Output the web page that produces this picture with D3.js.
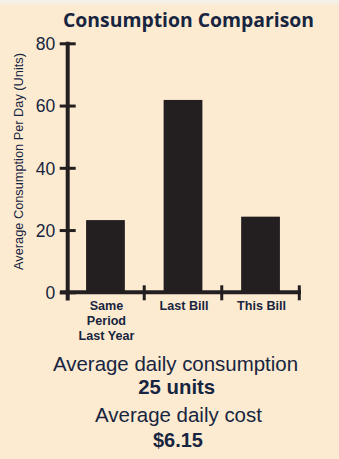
<!DOCTYPE html>
<html><head><meta charset="utf-8">
<script src="https://cdn.jsdelivr.net/npm/d3@7"></script>
<style>
html,body{margin:0;padding:0;background:#fdebd1;}
svg{display:block;}
</style></head>
<body>
<script>
const categories = ["Same Period Last Year", "Last Bill", "This Bill"];
const categoryLines = [["Same","Period","Last Year"],["Last Bill"],["This Bill"]];
const values = [23.2, 61.8, 24.3];
const yTicks = [0, 20, 40, 60, 80];
const title = "Consumption Comparison";
const yLabel = "Average Consumption Per Day (Units)";
const summary = [
  {text:"Average daily consumption", bold:false},
  {text:"25 units", bold:true},
  {text:"Average daily cost", bold:false},
  {text:"$6.15", bold:true}
];

const W = 339, H = 459;
const navy = "#172540", ink = "#231f20";
const svg = d3.select("body").append("svg").attr("width", W).attr("height", H);

const defs = svg.append("defs");
const g0 = defs.append("linearGradient").attr("id","topfade").attr("x1",0).attr("y1",0).attr("x2",0).attr("y2",1);
g0.append("stop").attr("offset","0%").attr("stop-color","#f4f1ec");
g0.append("stop").attr("offset","100%").attr("stop-color","#fdebd1");
svg.append("rect").attr("width",W).attr("height",H).attr("fill","#fdebd1");
svg.append("rect").attr("width",W).attr("height",7).attr("fill","url(#topfade)");

// scale font so text reaches a target width
function fitWidth(sel, target) {
  const fs = parseFloat(sel.attr("font-size"));
  const w = sel.node().getComputedTextLength();
  if (w > 0) sel.attr("font-size", (fs * target / w).toFixed(2));
}

const y = d3.scaleLinear().domain([0, 80]).range([292.3, 43.3]);
const x = d3.scaleBand().domain(categories).range([66.7, 299.3]).paddingInner(0.5).paddingOuter(0.25);

// title
const tt = svg.append("text").attr("x", 188.5).attr("y", 26.5).attr("text-anchor","middle")
  .attr("font-family","'Open Sans', Lato, sans-serif").attr("font-weight","bold")
  .attr("font-size", 19).attr("fill", navy).text(title);
fitWidth(tt, 251);

// y label
const yl = svg.append("text").attr("transform","translate(23,161.5) rotate(-90)").attr("text-anchor","middle")
  .attr("font-family","'Liberation Sans', Arial, sans-serif").attr("font-size", 12)
  .attr("fill", navy).text(yLabel);
fitWidth(yl, 217);

// bars
svg.append("g").selectAll("rect").data(values).join("rect")
  .attr("x", (d,i) => x(categories[i]))
  .attr("width", x.bandwidth())
  .attr("y", d => y(d))
  .attr("height", d => y(0) - y(d))
  .attr("fill", ink);

// y axis
const yAxis = svg.append("g").attr("transform","translate(67.7,0)")
  .call(d3.axisLeft(y).tickValues(yTicks).tickSize(0).tickPadding(12.5));
yAxis.select(".domain").remove();
yAxis.selectAll(".tick line").attr("x1",-8).attr("x2",8).attr("stroke",ink).attr("stroke-width",3);
yAxis.selectAll(".tick text").attr("font-family","'Liberation Sans', Arial, sans-serif")
  .attr("font-size",17.5).attr("fill",navy).attr("dy","0.36em");
svg.append("line").attr("x1",67.7).attr("x2",67.7).attr("y1",y(80)-1.5).attr("y2",300.5)
  .attr("stroke",ink).attr("stroke-width",4);

// x axis
svg.append("line").attr("x1",60).attr("x2",301).attr("y1",y(0)).attr("y2",y(0))
  .attr("stroke",ink).attr("stroke-width",4);
const step = x.step();
const bounds = d3.range(categories.length + 1).map(i => x.range()[0] + i * step);
svg.append("g").selectAll("line").data(bounds.slice(1)).join("line")
  .attr("x1", d => d).attr("x2", d => d).attr("y1", y(0) - 7).attr("y2", y(0) + 8)
  .attr("stroke", ink).attr("stroke-width", 3);

// x labels
const xl = svg.append("g");
categories.forEach((c, i) => {
  const cx = x(c) + x.bandwidth() / 2 + 1;
  const t = xl.append("text").attr("x", cx).attr("y", 310).attr("text-anchor","middle")
    .attr("font-family","'Liberation Sans', Arial, sans-serif").attr("font-weight","bold")
    .attr("font-size", 12.6).attr("fill", navy);
  categoryLines[i].forEach((ln, j) => {
    t.append("tspan").attr("x", cx).attr("dy", j === 0 ? 0 : 15).text(ln);
  });
});

// summary
const ys = [371, 393.5, 422, 447];
const widths = [245, 77, 167, 50];
const cxs = [175.5, 176.7, 178.5, 178];
summary.forEach((s, i) => {
  const t = svg.append("text").attr("x", cxs[i]).attr("y", ys[i]).attr("text-anchor","middle")
    .attr("font-family","'Liberation Sans', Arial, sans-serif")
    .attr("font-weight", s.bold ? "bold" : "normal")
    .attr("font-size", s.bold ? 19 : 19.5).attr("fill", navy).text(s.text);
  fitWidth(t, widths[i]);
});
</script>
</body></html>
